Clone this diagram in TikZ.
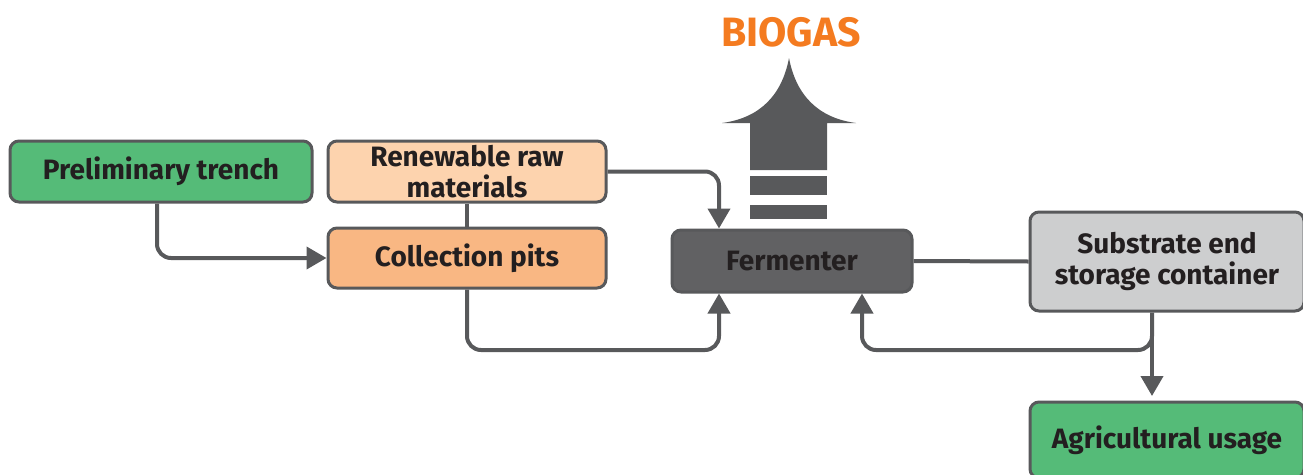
\documentclass[tikz,border=0pt]{standalone}
\usepackage{fontspec}
\setmainfont{Fira Sans}
\usetikzlibrary{arrows.meta}
\definecolor{edgegray}{HTML}{58595B}
\definecolor{txt}{HTML}{231F20}
\definecolor{grn}{HTML}{55BB78}
\definecolor{peachl}{HTML}{FDD3AE}
\definecolor{peach}{HTML}{F9B783}
\definecolor{ferm}{HTML}{616163}
\definecolor{lgray}{HTML}{CDCECF}
\definecolor{orng}{HTML}{F47B20}
\tikzset{
  box/.style={draw=edgegray, line width=3pt, rounded corners=9pt, inner sep=0pt, align=center,
    font=\fontsize{28}{31}\selectfont\bfseries, text=txt},
  conn/.style={draw=edgegray, line width=4pt, rounded corners=14pt},
  arr/.style={conn, -{Triangle[width=22pt,length=20pt]}},
}
\begin{document}
\begin{tikzpicture}[x=1pt,y=-1pt]
\useasboundingbox (0,0) rectangle (1303,474);
\node[box, fill=grn, minimum width=302pt, minimum height=61pt] (trench) at (161,171.5) {Preliminary trench};
\node[box, fill=peachl, minimum width=278pt, minimum height=61pt] (raw) at (467,171.5) {Renewable raw\\materials};
\node[box, fill=peach, minimum width=278pt, minimum height=60pt] (pits) at (467,258) {Collection pits};
\node[box, fill=ferm, minimum width=240pt, minimum height=62pt] (ferm) at (792,261) {Fermenter};
\node[box, fill=lgray, minimum width=274pt, minimum height=99pt] (store) at (1167,261.5) {Substrate end\\storage container};
\node[box, fill=grn, minimum width=274pt, minimum height=76pt] (agri) at (1167,440) {Agricultural usage};
\node[text=orng, font=\fontsize{41}{43}\selectfont\bfseries] (biogas) at (791,32) {BIOGAS};
% big arrow
\fill[edgegray] (789,58) .. controls (782,95) and (760,118) .. (722,123) -- (750,123) -- (750,170) -- (827,170) -- (827,123) -- (856,123) .. controls (818,118) and (796,95) .. (789,58) -- cycle;
\fill[edgegray] (750,176) rectangle (827,195);
\fill[edgegray] (750,205) rectangle (827,219);
% connectors
\draw[arr] (trench.south -| 157,0) |- (pits.west);
\draw[conn] (raw.south) -- (pits.north);
\draw[arr] (raw.east) -| (ferm.north -| 719,0);
\draw[arr] (pits.south) |- (719,350) -- (ferm.south -| 719,0);
\draw[conn] (ferm.east) -- (store.west -| store.west);
\draw[arr] (store.south -| 1152,0) -- (1152,350) -| (ferm.south -| 862,0);
\coordinate (agtop) at (1152,396);
\draw[arr] (store.south -| 1152,0) -- (agtop);
\end{tikzpicture}
\end{document}
